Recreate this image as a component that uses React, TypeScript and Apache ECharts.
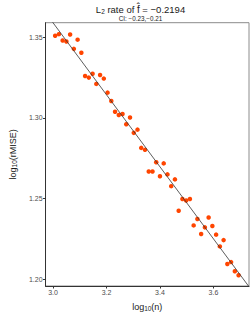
import React, { useEffect, useRef } from "react";
import * as echarts from "echarts";

const logN = [
  3.008, 3.022, 3.036, 3.05, 3.064, 3.078, 3.092, 3.106, 3.12, 3.134,
  3.148, 3.162, 3.176, 3.19, 3.204, 3.218, 3.232, 3.246, 3.26, 3.274,
  3.288, 3.302, 3.316, 3.33, 3.344, 3.358, 3.372, 3.386, 3.4, 3.414,
  3.428, 3.442, 3.456, 3.47, 3.484, 3.498, 3.512, 3.526, 3.54, 3.554,
  3.568, 3.582, 3.596, 3.61, 3.624, 3.638, 3.652, 3.666, 3.68, 3.694,
];
const logRMISE = [
  1.3508, 1.3518, 1.3479, 1.3473, 1.3516, 1.3427, 1.3484, 1.3403, 1.3259, 1.3249,
  1.3273, 1.321, 1.3265, 1.3243, 1.3156, 1.3104, 1.3038, 1.3018, 1.3024, 1.296,
  1.3002, 1.2907, 1.2927, 1.2814, 1.2802, 1.2668, 1.2668, 1.2725, 1.2638, 1.2718,
  1.265, 1.2577, 1.2619, 1.2425, 1.2498, 1.2488, 1.2498, 1.2334, 1.2374, 1.2281,
  1.2322, 1.2383, 1.233, 1.2277, 1.2204, 1.2243, 1.2095, 1.2107, 1.205, 1.2026,
];
const fitLineX = [2.96, 3.74];
const fitLineY = [1.3678, 1.1939];
const xTicks = [3.0, 3.2, 3.4, 3.6];
const yTicks = [1.2, 1.25, 1.3, 1.35];
const titleMain = "L{s|2} rate of {h|f̂} = −0.2194";
const titleCI = "CI: −0.23,−0.21";

export default function App() {
  const ref = useRef<HTMLDivElement>(null);
  useEffect(() => {
    if (!ref.current) return;
    const chart = echarts.init(ref.current, null, { renderer: "svg" });
    const font = "Liberation Sans, Arial, sans-serif";
    chart.setOption({
      animation: false,
      textStyle: { fontFamily: font },
      grid: {
        left: 32,
        right: 2,
        top: 22.7,
        bottom: 26,
        show: true,
        borderColor: "#8c8c8c",
        borderWidth: 1,
        containLabel: false,
      },
      graphic: [
        {
          type: "text",
          x: 140.5,
          y: 4,
          style: {
            text: titleMain,
            textAlign: "center",
            fontFamily: font,
            fontSize: 9.5,
            fill: "#1a1a1a",
            rich: {
              s: { fontSize: 6.5, padding: [4, 0, 0, 0], fontFamily: font, fill: "#1a1a1a" },
              h: { fontSize: 10, fontFamily: font, fill: "#1a1a1a" },
            },
          },
        },
        {
          type: "text",
          x: 140.5,
          y: 15.5,
          style: {
            text: titleCI,
            textAlign: "center",
            fontFamily: font,
            fontSize: 6.3,
            fill: "#1a1a1a",
          },
        },
      ],
      xAxis: {
        type: "value",
        min: 2.972,
        max: 3.733,
        splitLine: { show: false },
        axisLine: { show: true, lineStyle: { color: "#333", width: 1 } },
        axisTick: { show: true, length: 2.5, customValues: xTicks, lineStyle: { color: "#333" } },
        axisLabel: {
          customValues: xTicks,
          formatter: (v: number) => v.toFixed(1),
          fontSize: 7,
          color: "#4d4d4d",
          margin: 3,
          fontFamily: font,
        },
        name: "log{s|10}(n)",
        nameLocation: "middle",
        nameGap: 15,
        nameTextStyle: {
          fontSize: 9,
          color: "#1a1a1a",
          fontFamily: font,
          rich: { s: { fontSize: 6.5, padding: [4, 0, 0, 0], fontFamily: font, color: "#1a1a1a" } },
        },
      },
      yAxis: {
        type: "value",
        min: 1.1959,
        max: 1.3589,
        splitLine: { show: false },
        axisLine: { show: true, lineStyle: { color: "#333", width: 1 } },
        axisTick: { show: true, length: 2.5, customValues: yTicks, lineStyle: { color: "#333" } },
        axisLabel: {
          customValues: yTicks,
          formatter: (v: number) => v.toFixed(2),
          fontSize: 7,
          color: "#4d4d4d",
          margin: 3,
          fontFamily: font,
        },
        name: "log{s|10}(rMISE)",
        nameLocation: "middle",
        nameGap: 19,
        nameRotate: 90,
        nameTextStyle: {
          fontSize: 9,
          color: "#1a1a1a",
          fontFamily: font,
          rich: { s: { fontSize: 6.5, padding: [4, 0, 0, 0], fontFamily: font, color: "#1a1a1a" } },
        },
      },
      series: [
        {
          type: "scatter",
          data: logN.map((x, i) => [x, logRMISE[i]]),
          symbolSize: 4.5,
          itemStyle: { color: "#FF4500", opacity: 1 },
          silent: true,
          z: 2,
        },
        {
          type: "line",
          data: fitLineX.map((x, i) => [x, fitLineY[i]]),
          showSymbol: false,
          symbol: "none",
          clip: true,
          lineStyle: { color: "#333", width: 0.8 },
          silent: true,
          z: 3,
        },
      ],
    });
    return () => chart.dispose();
  }, []);
  return <div ref={ref} style={{ width: 251, height: 317, position: "absolute", left: 0, top: 0 }} />;
}
